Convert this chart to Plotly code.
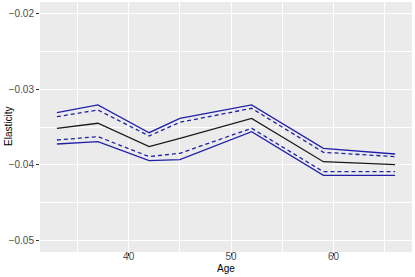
import plotly.graph_objects as go

age = [33, 37, 42, 45, 52, 59, 66]
estimate = [-0.03517, -0.03451, -0.03759, -0.03651, -0.03386, -0.03957, -0.03996]
upper_outer = [-0.03312, -0.03210, -0.03575, -0.03386, -0.03210, -0.03780, -0.03855]
upper_inner = [-0.03364, -0.03276, -0.03618, -0.03438, -0.03254, -0.03833, -0.03890]
lower_inner = [-0.03671, -0.03627, -0.03890, -0.03846, -0.03517, -0.04088, -0.04088]
lower_outer = [-0.03724, -0.03693, -0.03943, -0.03930, -0.03562, -0.04136, -0.04136]

x_ticks = [40, 50, 60]
y_ticks = [-0.05, -0.04, -0.03, -0.02]

blue = "#2020A8"
fig = go.Figure()
for ys, dash in [(upper_outer, "solid"), (upper_inner, "4px,3px"),
                 (lower_inner, "4px,3px"), (lower_outer, "solid")]:
    fig.add_trace(go.Scatter(x=age, y=ys, mode="lines",
                             line=dict(color=blue, width=1.3, dash=dash),
                             showlegend=False, hoverinfo="skip"))
fig.add_trace(go.Scatter(x=age, y=estimate, mode="lines",
                         line=dict(color="#1a1a1a", width=1.3),
                         showlegend=False))

fam = "Liberation Sans, Arial, sans-serif"
axis_common = dict(
    automargin=False,
    showline=False, zeroline=False, ticks="outside", ticklen=3, tickwidth=1,
    tickcolor="#333333", gridcolor="white", gridwidth=1,
    tickfont=dict(family=fam, size=10, color="#4D4D4D"),
)
fig.update_xaxes(range=[31.35, 67.65], tickvals=x_ticks, ticklabelstandoff=-8,
                 minor=dict(tickvals=[35, 45, 55, 65], showgrid=True,
                            gridcolor="white", gridwidth=0.5, ticks=""),
                 **axis_common)
fig.update_yaxes(range=[-0.05145, -0.01855], tickvals=y_ticks,
                 minor=dict(tickvals=[-0.045, -0.035, -0.025], showgrid=True,
                            gridcolor="white", gridwidth=0.5, ticks=""),
                 **axis_common)
fig.add_annotation(text="Age", xref="paper", yref="paper", x=0.5, y=-0.066,
                   xanchor="center", yanchor="middle", showarrow=False,
                   font=dict(family=fam, size=10, color="black"))
fig.add_annotation(text="Elasticity", xref="paper", yref="paper", x=-0.086, y=0.5,
                   xanchor="center", yanchor="middle", textangle=-90, showarrow=False,
                   font=dict(family=fam, size=10, color="black"))
fig.update_layout(
    width=415, height=277,
    margin=dict(l=40, r=3, t=2, b=25),
    paper_bgcolor="white", plot_bgcolor="#EBEBEB",
    font=dict(family=fam),
)
fig.write_html("out.html", config={"displayModeBar": False},
               post_script="document.body.style.margin='0px';document.body.style.overflow='hidden';")
